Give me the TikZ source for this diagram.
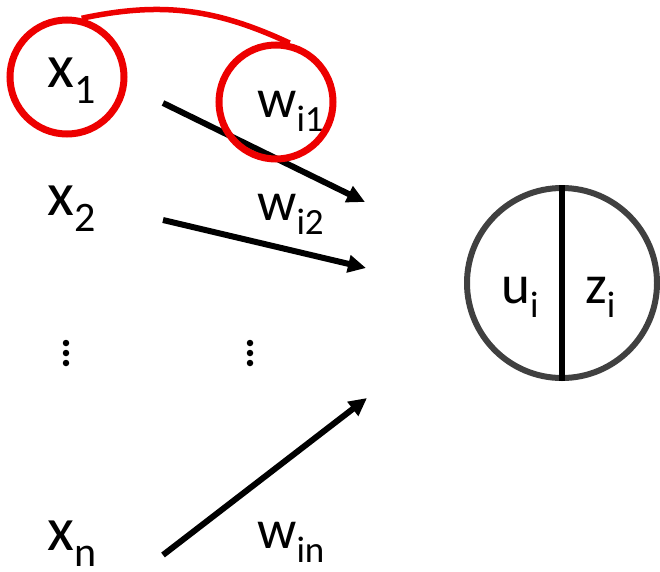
\documentclass[tikz,border=0pt]{standalone}
\usepackage{fontspec}
\setmainfont{Carlito}
\usetikzlibrary{arrows.meta,positioning}
\definecolor{ringred}{RGB}{237,0,0}
\definecolor{cellgray}{RGB}{64,64,64}
\newcommand{\lowsub}[1]{\raisebox{-0.26em}{\fontsize{42}{42}\selectfont #1}}
\newcommand{\wsub}[1]{\raisebox{-0.26em}{\fontsize{37}{37}\selectfont #1}}

\begin{document}
\begin{tikzpicture}[x=1pt,y=-1pt,
      lbl/.style={inner sep=0pt,anchor=base west,font=\fontsize{62}{62}\selectfont},
      wlbl/.style={inner sep=0pt,anchor=base west,font=\fontsize{55}{55}\selectfont},
      redring/.style={draw=ringred,circle,line width=7pt,inner sep=0pt},
      wire/.style={draw,line width=6pt,-{Triangle[length=18pt,width=17pt]}},
      dot/.style={fill,circle,inner sep=0pt,minimum size=6.5pt}]
    \useasboundingbox (0,0) rectangle (660,571);
    % inputs
    \node[lbl] (x1) at (47,87) {x\lowsub{1}};
    \node[lbl] (x2) at (47,215) {x\lowsub{2}};
    \node[lbl] (xn) at (47,550) {x\lowsub{n}};
    \foreach \y in {343,353,363} \node[dot] at (66,\y) {};
    % weights
    \node[wlbl] (w1) at (257,117) {w\wsub{i1}};
    \node[wlbl] (w2) at (257,220) {w\wsub{i2}};
    \node[wlbl] (wn) at (257,548) {w\wsub{in}};
    \foreach \y in {343,353,363} \node[dot] at (250,\y) {};
    % neuron
    \node[draw=cellgray,circle,line width=6pt,minimum size=190pt,inner sep=0pt] (cell) at (562,283) {};
    \draw[line width=6pt] (cell.north) -- (cell.south);
    \node[wlbl] (u) at (501,303) {u\wsub{i}};
    \node[wlbl] (z) at (585,303) {z\wsub{i}};
    % connectors
    \coordinate (s1) at (163,103);
    \coordinate (s2) at (163,220);
    \coordinate (sn) at (163,555);
    \coordinate (t1) at (365,202);
    \coordinate (t2) at (366,268);
    \coordinate (tn) at (367,398);
    \draw[wire] (s1) -- (t1);
    \draw[wire] (s2) -- (t2);
    \draw[wire] (sn) -- (tn);
    % highlight
    \node[redring,minimum size=114pt] (r1) at (67,77) {};
    \node[redring,minimum size=114pt] (r2) at (276,102) {};
    \draw[ringred,line width=5.5pt] (r1.76) to[out=12,in=155] (r2.77);
\end{tikzpicture}
\end{document}
